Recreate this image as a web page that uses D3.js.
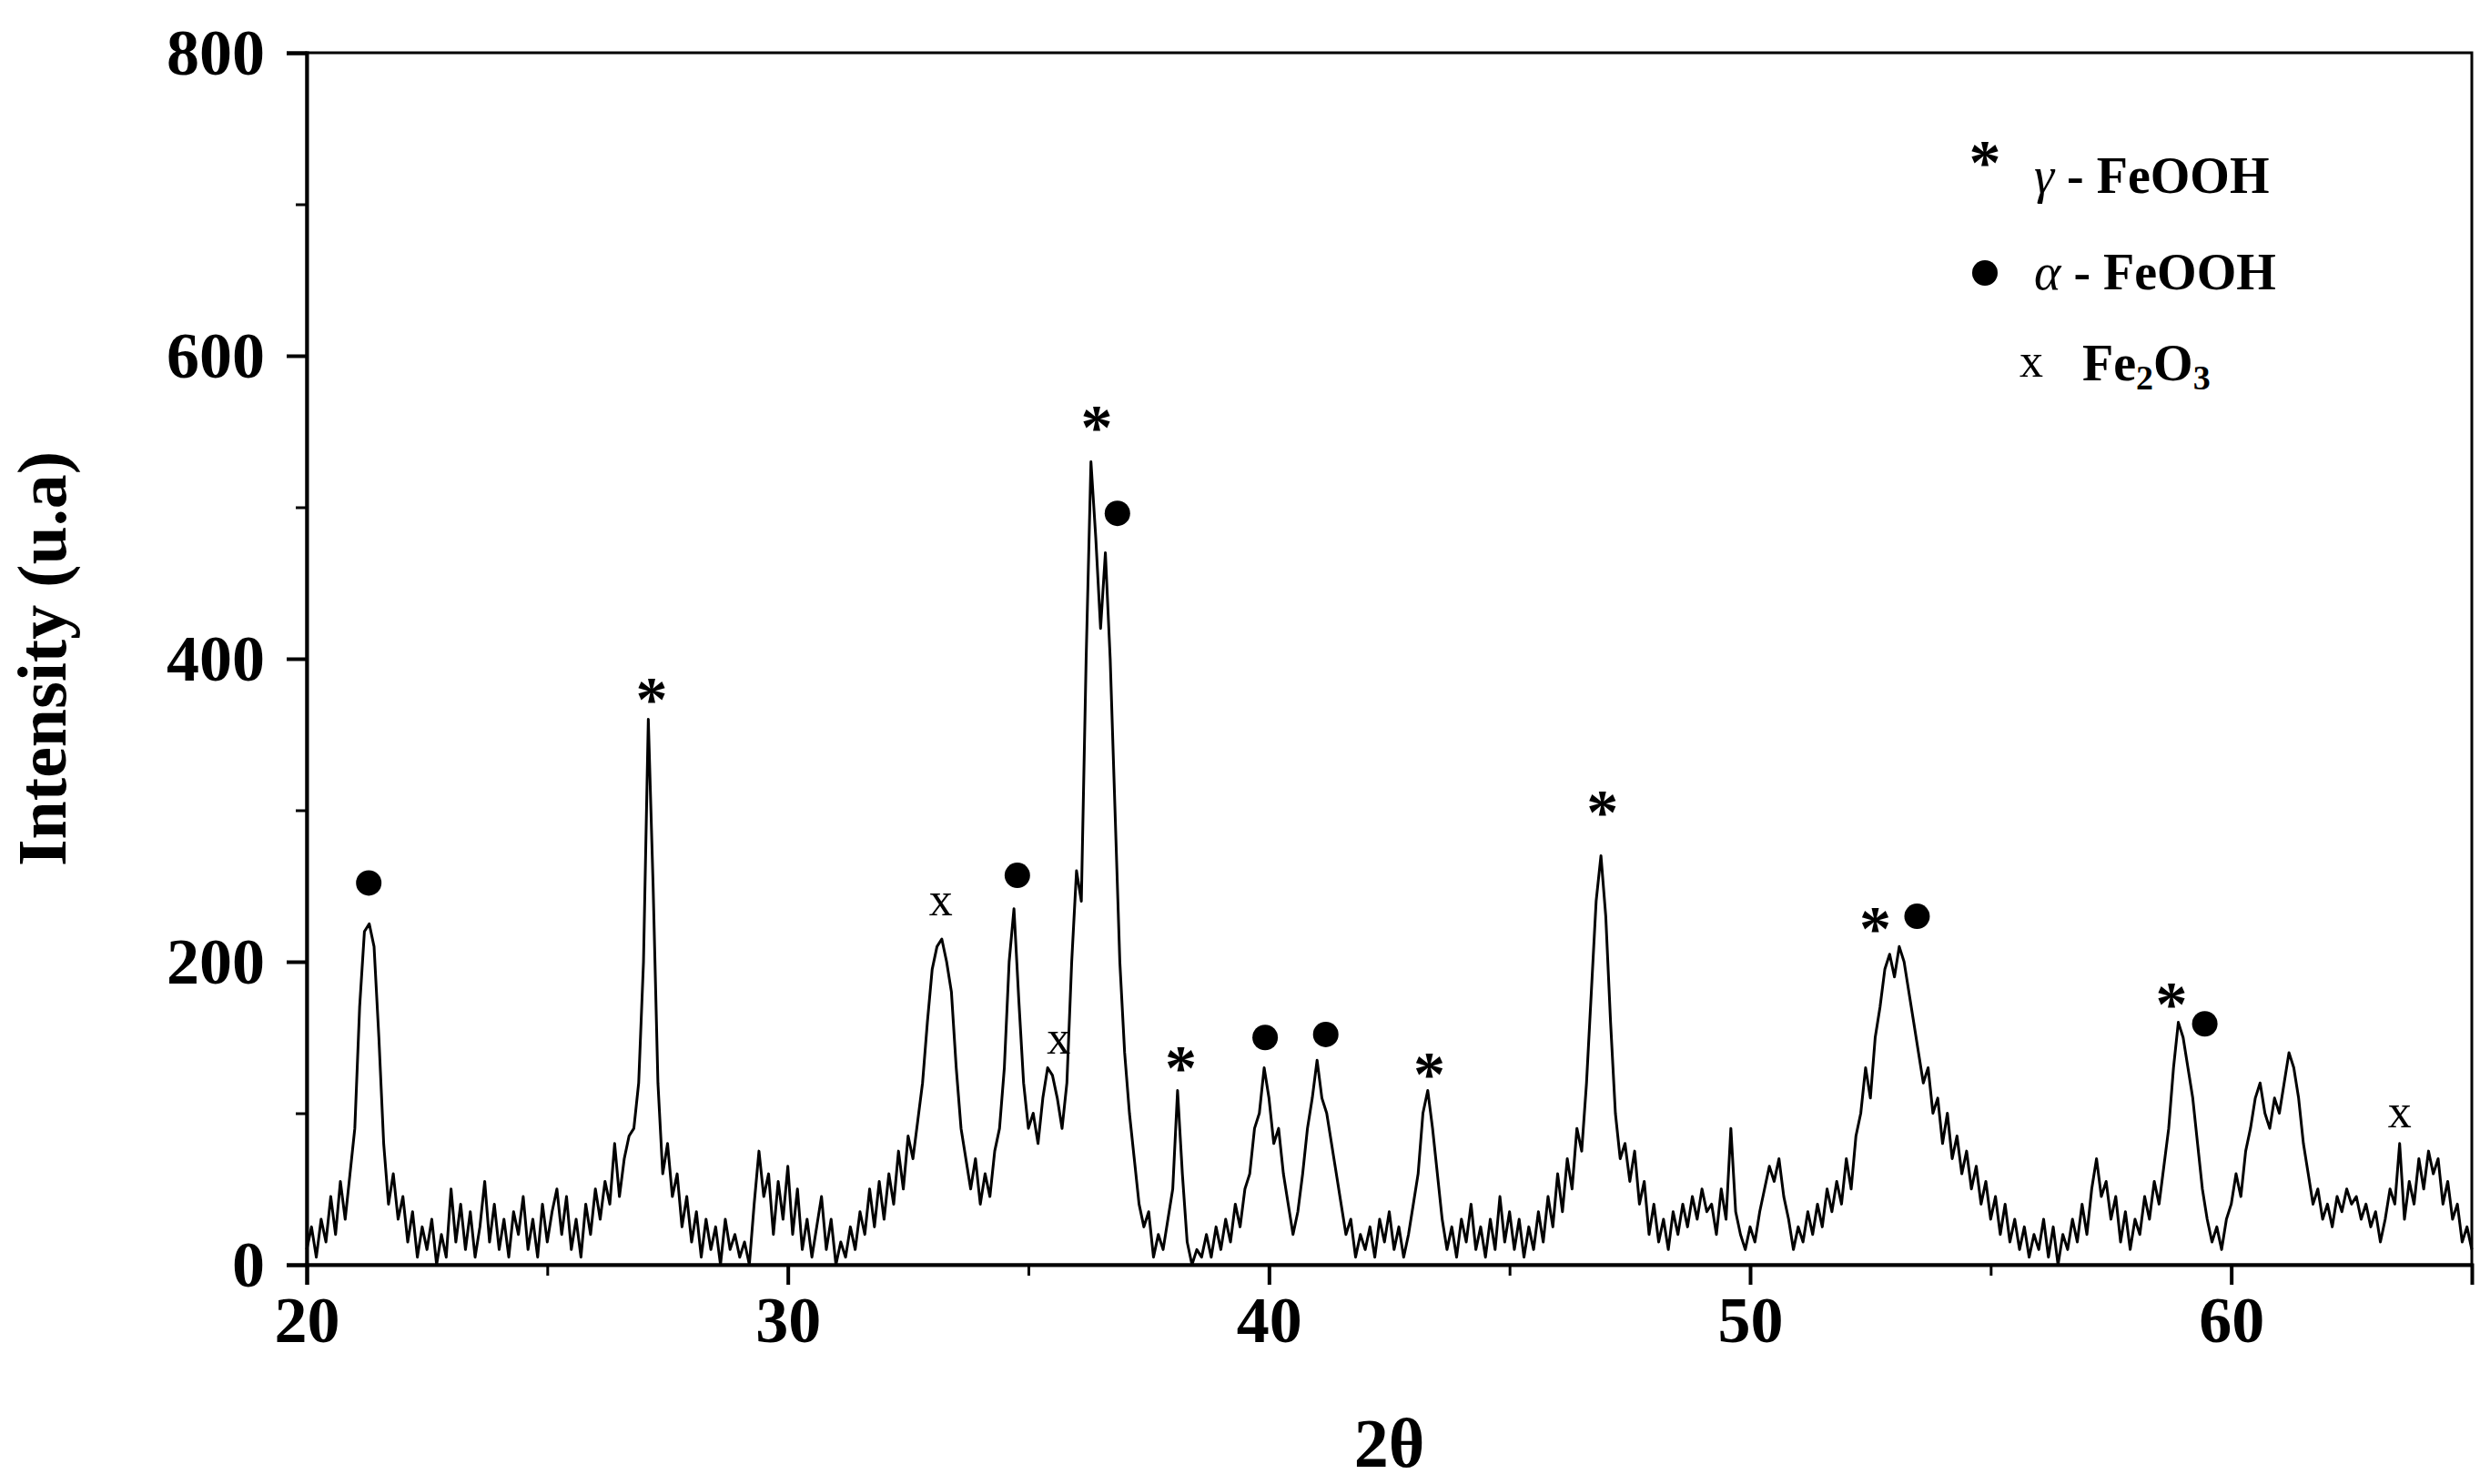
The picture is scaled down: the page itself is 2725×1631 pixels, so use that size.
<!DOCTYPE html>
<html>
<head>
<meta charset="utf-8">
<script src="https://cdn.jsdelivr.net/npm/d3@7"></script>
<style>
  body { margin: 0; background: #fff; }
  text { font-family: "Liberation Serif", "DejaVu Serif", serif; font-weight: bold; fill: #000; }
</style>
</head>
<body>
<svg id="chart" width="2725" height="1631"></svg>
<script>
// scan: [2theta, intensity]
const scan = [
  [20.0,10],[20.1,25],[20.2,5],[20.3,30],[20.4,15],[20.5,45],[20.6,20],[20.7,55],[20.8,30],[20.9,60],
  [21.0,90],[21.1,170],[21.2,220],[21.3,225],[21.4,210],[21.5,150],[21.6,80],[21.7,40],[21.8,60],[21.9,30],
  [22.0,45],[22.1,15],[22.2,35],[22.3,5],[22.4,25],[22.5,10],[22.6,30],[22.7,0],[22.8,20],[22.9,5],
  [23.0,50],[23.1,15],[23.2,40],[23.3,10],[23.4,35],[23.5,5],[23.6,25],[23.7,55],[23.8,15],[23.9,40],
  [24.0,10],[24.1,30],[24.2,5],[24.3,35],[24.4,20],[24.5,45],[24.6,10],[24.7,30],[24.8,5],[24.9,40],
  [25.0,15],[25.1,35],[25.2,50],[25.3,20],[25.4,45],[25.5,10],[25.6,30],[25.7,5],[25.8,40],[25.9,20],
  [26.0,50],[26.1,30],[26.2,55],[26.3,40],[26.4,80],[26.5,45],[26.6,70],[26.7,85],[26.8,90],[26.9,120],
  [27.0,200],[27.1,360],[27.2,250],[27.3,120],[27.4,60],[27.5,80],[27.6,45],[27.7,60],[27.8,25],[27.9,45],
  [28.0,15],[28.1,35],[28.2,5],[28.3,30],[28.4,10],[28.5,25],[28.6,0],[28.7,30],[28.8,10],[28.9,20],
  [29.0,5],[29.1,15],[29.2,0],[29.3,40],[29.4,75],[29.5,45],[29.6,60],[29.7,20],[29.8,55],[29.9,30],
  [30.0,65],[30.1,20],[30.2,50],[30.3,10],[30.4,30],[30.5,5],[30.6,25],[30.7,45],[30.8,10],[30.9,30],
  [31.0,0],[31.1,15],[31.2,5],[31.3,25],[31.4,10],[31.5,35],[31.6,20],[31.7,50],[31.8,25],[31.9,55],
  [32.0,30],[32.1,60],[32.2,40],[32.3,75],[32.4,50],[32.5,85],[32.6,70],[32.7,95],[32.8,120],[32.9,160],
  [33.0,195],[33.1,210],[33.2,215],[33.3,200],[33.4,180],[33.5,130],[33.6,90],[33.7,70],[33.8,50],[33.9,70],
  [34.0,40],[34.1,60],[34.2,45],[34.3,75],[34.4,90],[34.5,130],[34.6,200],[34.7,235],[34.8,175],[34.9,120],
  [35.0,90],[35.1,100],[35.2,80],[35.3,110],[35.4,130],[35.5,125],[35.6,110],[35.7,90],[35.8,120],[35.9,200],
  [36.0,260],[36.1,240],[36.2,400],[36.3,530],[36.4,480],[36.5,420],[36.6,470],[36.7,400],[36.8,300],[36.9,200],
  [37.0,140],[37.1,100],[37.2,70],[37.3,40],[37.4,25],[37.5,35],[37.6,5],[37.7,20],[37.8,10],[37.9,30],
  [38.0,50],[38.1,115],[38.2,60],[38.3,15],[38.4,0],[38.5,10],[38.6,5],[38.7,20],[38.8,5],[38.9,25],
  [39.0,10],[39.1,30],[39.2,15],[39.3,40],[39.4,25],[39.5,50],[39.6,60],[39.7,90],[39.8,100],[39.9,130],
  [40.0,110],[40.1,80],[40.2,90],[40.3,60],[40.4,40],[40.5,20],[40.6,35],[40.7,60],[40.8,90],[40.9,110],
  [41.0,135],[41.1,110],[41.2,100],[41.3,80],[41.4,60],[41.5,40],[41.6,20],[41.7,30],[41.8,5],[41.9,20],
  [42.0,10],[42.1,25],[42.2,5],[42.3,30],[42.4,15],[42.5,35],[42.6,10],[42.7,25],[42.8,5],[42.9,20],
  [43.0,40],[43.1,60],[43.2,100],[43.3,115],[43.4,90],[43.5,60],[43.6,30],[43.7,10],[43.8,25],[43.9,5],
  [44.0,30],[44.1,15],[44.2,40],[44.3,10],[44.4,25],[44.5,5],[44.6,30],[44.7,10],[44.8,45],[44.9,15],
  [45.0,35],[45.1,10],[45.2,30],[45.3,5],[45.4,25],[45.5,10],[45.6,35],[45.7,15],[45.8,45],[45.9,25],
  [46.0,60],[46.1,35],[46.2,70],[46.3,50],[46.4,90],[46.5,75],[46.6,120],[46.7,180],[46.8,240],[46.9,270],
  [47.0,230],[47.1,160],[47.2,100],[47.3,70],[47.4,80],[47.5,55],[47.6,75],[47.7,40],[47.8,55],[47.9,20],
  [48.0,40],[48.1,15],[48.2,30],[48.3,10],[48.4,35],[48.5,20],[48.6,40],[48.7,25],[48.8,45],[48.9,30],
  [49.0,50],[49.1,35],[49.2,40],[49.3,20],[49.4,50],[49.5,30],[49.6,90],[49.7,35],[49.8,20],[49.9,10],
  [50.0,25],[50.1,15],[50.2,35],[50.3,50],[50.4,65],[50.5,55],[50.6,70],[50.7,45],[50.8,30],[50.9,10],
  [51.0,25],[51.1,15],[51.2,35],[51.3,20],[51.4,40],[51.5,25],[51.6,50],[51.7,35],[51.8,55],[51.9,40],
  [52.0,70],[52.1,50],[52.2,85],[52.3,100],[52.4,130],[52.5,110],[52.6,150],[52.7,170],[52.8,195],[52.9,205],
  [53.0,190],[53.1,210],[53.2,200],[53.3,180],[53.4,160],[53.5,140],[53.6,120],[53.7,130],[53.8,100],[53.9,110],
  [54.0,80],[54.1,100],[54.2,70],[54.3,85],[54.4,60],[54.5,75],[54.6,50],[54.7,65],[54.8,40],[54.9,55],
  [55.0,30],[55.1,45],[55.2,20],[55.3,40],[55.4,15],[55.5,30],[55.6,10],[55.7,25],[55.8,5],[55.9,20],
  [56.0,10],[56.1,30],[56.2,5],[56.3,25],[56.4,0],[56.5,20],[56.6,10],[56.7,30],[56.8,15],[56.9,40],
  [57.0,20],[57.1,50],[57.2,70],[57.3,45],[57.4,55],[57.5,30],[57.6,45],[57.7,15],[57.8,35],[57.9,10],
  [58.0,30],[58.1,20],[58.2,45],[58.3,30],[58.4,55],[58.5,40],[58.6,65],[58.7,90],[58.8,130],[58.9,160],
  [59.0,150],[59.1,130],[59.2,110],[59.3,80],[59.4,50],[59.5,30],[59.6,15],[59.7,25],[59.8,10],[59.9,30],
  [60.0,40],[60.1,60],[60.2,45],[60.3,75],[60.4,90],[60.5,110],[60.6,120],[60.7,100],[60.8,90],[60.9,110],
  [61.0,100],[61.1,120],[61.2,140],[61.3,130],[61.4,110],[61.5,80],[61.6,60],[61.7,40],[61.8,50],[61.9,30],
  [62.0,40],[62.1,25],[62.2,45],[62.3,35],[62.4,50],[62.5,40],[62.6,45],[62.7,30],[62.8,40],[62.9,25],
  [63.0,35],[63.1,15],[63.2,30],[63.3,50],[63.4,40],[63.5,80],[63.6,30],[63.7,55],[63.8,40],[63.9,70],
  [64.0,50],[64.1,75],[64.2,60],[64.3,70],[64.4,40],[64.5,55],[64.6,30],[64.7,40],[64.8,15],[64.9,25],
  [65.0,10]
];

// phase markers: [2theta, intensity, symbol]
const markers = [
  [21.29,252,"dot"],[27.17,377,"star"],[33.18,239,"x"],[34.77,257,"dot"],[35.63,148,"x"],
  [36.42,557,"star"],[36.85,496,"dot"],[38.17,134,"star"],[39.92,150,"dot"],[41.18,152,"dot"],
  [43.33,130,"star"],[46.93,303,"star"],[52.6,226,"star"],[53.47,230,"dot"],[58.76,176,"star"],
  [59.45,159,"dot"],[63.5,99,"x"]
];

const xTicks = [20, 30, 40, 50, 60];
const yTicks = [0, 200, 400, 600, 800];

const margin = { left: 337, right: 2716, top: 58, bottom: 1390 };
const svg = d3.select("#chart");

const x = d3.scaleLinear().domain([20, 65]).range([margin.left, margin.right]);
const y = d3.scaleLinear().domain([0, 800]).range([margin.bottom, margin.top]);

// frame
svg.append("rect")
  .attr("x", margin.left).attr("y", margin.top)
  .attr("width", margin.right - margin.left).attr("height", margin.bottom - margin.top)
  .attr("fill", "none").attr("stroke", "#000").attr("stroke-width", 3);

// minor ticks
svg.append("g")
  .attr("transform", `translate(0,${margin.bottom})`)
  .call(d3.axisBottom(x).tickValues([25, 35, 45, 55, 65]).tickSize(12).tickFormat(""))
  .call(g => g.select(".domain").remove())
  .selectAll("line").attr("stroke-width", 3);
svg.append("g")
  .attr("transform", `translate(${margin.left},0)`)
  .call(d3.axisLeft(y).tickValues([100, 300, 500, 700]).tickSize(12).tickFormat(""))
  .call(g => g.select(".domain").remove())
  .selectAll("line").attr("stroke-width", 3);

// major axes
const xAxis = svg.append("g")
  .attr("transform", `translate(0,${margin.bottom})`)
  .call(d3.axisBottom(x).tickValues(xTicks).tickSize(22).tickPadding(12));
const yAxis = svg.append("g")
  .attr("transform", `translate(${margin.left},0)`)
  .call(d3.axisLeft(y).tickValues(yTicks).tickSize(22).tickPadding(24));
[xAxis, yAxis].forEach(g => {
  g.select(".domain").attr("stroke-width", 4);
  g.selectAll("line").attr("stroke-width", 4);
  g.selectAll("text").style("font-size", "72px").style("font-family", "Liberation Serif").style("font-weight", "bold");
});

// axis titles
svg.append("text")
  .attr("transform", `translate(72,${(margin.top + margin.bottom) / 2}) rotate(-90)`)
  .attr("text-anchor", "middle")
  .style("font-size", "76px")
  .text("Intensity (u.a)");
svg.append("text")
  .attr("x", (margin.left + margin.right) / 2).attr("y", 1612)
  .attr("text-anchor", "middle")
  .style("font-size", "76px")
  .text("2θ");

// scan line
svg.append("path")
  .datum(scan)
  .attr("fill", "none")
  .attr("stroke", "#000")
  .attr("stroke-width", 3)
  .attr("stroke-linejoin", "round")
  .attr("d", d3.line().x(d => x(d[0])).y(d => y(d[1])));

// markers
function drawSymbol(g, type, cx, cy) {
  if (type === "dot") {
    g.append("circle").attr("cx", cx).attr("cy", cy).attr("r", 14).attr("fill", "#000");
  } else if (type === "star") {
    g.append("text").attr("x", cx).attr("y", cy + 30).attr("text-anchor", "middle")
      .style("font-size", "70px").text("*");
  } else {
    g.append("text").attr("x", cx).attr("y", cy + 14).attr("text-anchor", "middle")
      .style("font-size", "52px").style("font-weight", "normal").text("x");
  }
}
const markG = svg.append("g");
markers.forEach(m => drawSymbol(markG, m[2], x(m[0]), y(m[1])));

// legend
const legend = svg.append("g");
drawSymbol(legend, "star", 2181, 172);
legend.append("text").attr("x", 2235).attr("y", 212).style("font-size", "56px")
  .html('<tspan font-style="italic" font-weight="normal">γ</tspan> - FeOOH');
drawSymbol(legend, "dot", 2181, 300);
legend.append("text").attr("x", 2235).attr("y", 318).style("font-size", "56px")
  .html('<tspan font-style="italic" font-weight="normal">α</tspan> - FeOOH');
drawSymbol(legend, "x", 2232, 400);
legend.append("text").attr("x", 2288).attr("y", 418).style("font-size", "56px")
  .html('Fe<tspan font-size="38px" dy="10">2</tspan><tspan dy="-10">O</tspan><tspan font-size="38px" dy="10">3</tspan>');
</script>
</body>
</html>
